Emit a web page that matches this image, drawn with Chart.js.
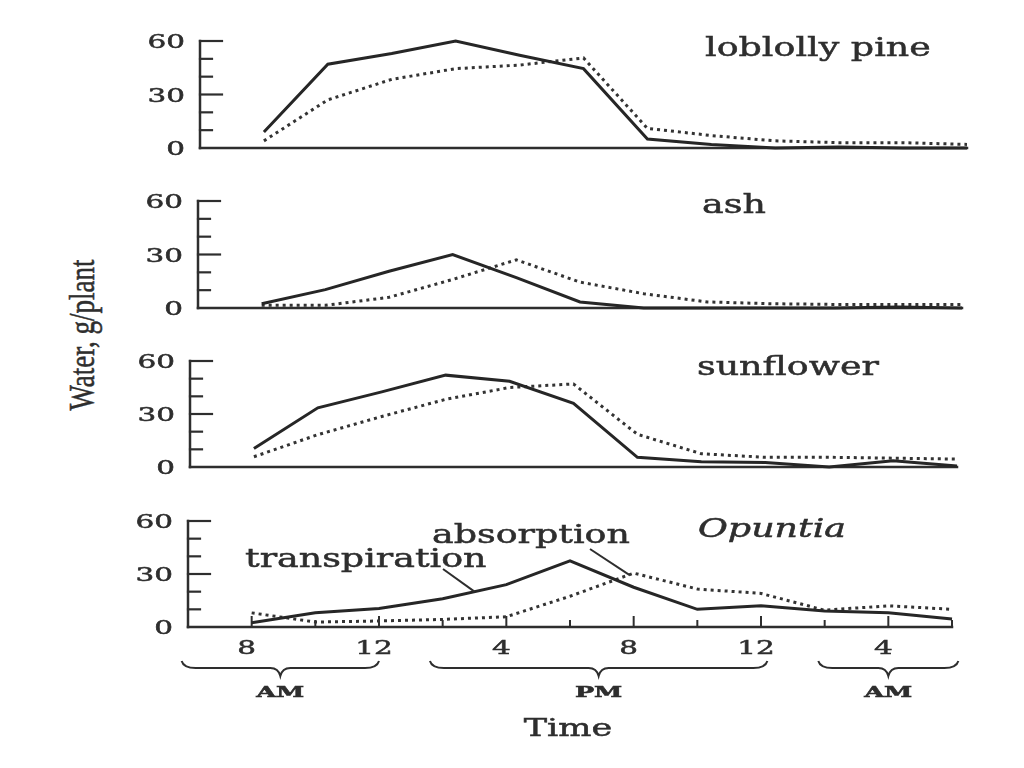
<!DOCTYPE html>
<html>
<head>
<meta charset="utf-8">
<script src="https://cdn.jsdelivr.net/npm/chart.js@4"></script>
<style>
  body { margin: 0; background: #fff; }
  #page { position: relative; width: 1024px; height: 768px; overflow: hidden; background: #fff; }
  #page canvas { position: absolute; left: 0; }
  #ylabel {
    position: absolute; left: 83px; top: 335px;
    font: 27px "Liberation Serif", serif; color: #2e2e2e; white-space: nowrap;
    -webkit-text-stroke: 0.4px #2e2e2e;
    transform: translate(-50%, -50%) rotate(-90deg) scaleY(1.35);
  }
</style>
</head>
<body>
<div id="page">
  <div id="ylabel">Water, g/plant</div>
</div>
<script>
// hours since midnight of the first day (8 = 8 AM, 20 = 8 PM, 28 = 4 AM)
const hours = [8, 10, 12, 14, 16, 18, 20, 22, 24, 26, 28, 30];
const plants = ['loblolly pine', 'ash', 'sunflower', 'Opuntia'];

const pineTranspiration = [9, 47, 53, 60, 52, 44.5, 5, 2, 0, 0.5, 0, 0];
const pineAbsorption = [4, 27, 38.5, 44.5, 46.5, 50.5, 11, 7, 4, 3, 3, 2];
const ashTranspiration = [2.4, 10.3, 20.6, 30, 17, 3.4, 0, 0, 0, 0, 0.5, 0];
const ashAbsorption = [1.5, 1.5, 6, 16, 27, 14.5, 8, 3.4, 2.4, 2, 2, 2];
const sunflowerTranspiration = [10.5, 33.5, 42.5, 52, 48.5, 36, 5.5, 3, 2.5, 0, 3.5, 0.5];
const sunflowerAbsorption = [5.8, 18.3, 28.6, 38.3, 45, 47, 18.5, 7.5, 5.5, 5.5, 5, 4.5];
const opuntiaTranspiration = [2.4, 8, 10.5, 16, 24, 37.5, 22.5, 10, 12, 9, 8, 4.5];
const opuntiaAbsorption = [8, 2.8, 3.4, 4.3, 5.8, 17.4, 30.5, 21.5, 19, 9.5, 12, 10];

const transpiration = [pineTranspiration, ashTranspiration, sunflowerTranspiration, opuntiaTranspiration];
const absorption = [pineAbsorption, ashAbsorption, sunflowerAbsorption, opuntiaAbsorption];

const yTicks = [0, 10, 20, 30, 40, 50, 60];
const yTickLabels = ['0', '', '', '30', '', '', '60'];
const xTicks = [8, 10, 12, 14, 16, 18, 20, 22, 24, 26, 28, 30];
const xTickLabels = ['8', '', '12', '', '4', '', '8', '', '12', '', '4', ''];
const periods = ['AM', 'PM', 'AM'];

// page layout (pixels) – the scanned panels are slightly offset from each other
const panels = [
  { left: 200, right: 967, top: 41, bottom: 148, titleX: 705, titleY: 56 },
  { left: 198, right: 962, top: 201, bottom: 308, titleX: 702, titleY: 213 },
  { left: 190, right: 957, top: 361, bottom: 467, titleX: 697, titleY: 375 },
  { left: 188, right: 952, top: 521, bottom: 627, titleX: 698, titleY: 537 }
];
const braceSpans = [[5.8, 12], [13.6, 24.2], [25.8, 30.2]]; // in hours
const INK = '#2e2e2e';
const SX = 1.4; // the scan is stretched sideways

function stretchText(ctx, text, x, y, font, align, sx) {
  ctx.save();
  ctx.font = font;
  ctx.fillStyle = INK;
  ctx.strokeStyle = INK;
  ctx.lineWidth = 0.5;
  ctx.textAlign = align;
  ctx.textBaseline = 'alphabetic';
  ctx.translate(x, y);
  ctx.scale(sx, 1);
  ctx.fillText(text, 0, 0);
  ctx.strokeText(text, 0, 0);
  ctx.restore();
}

function brace(ctx, x1, x2, y) {
  const xm = (x1 + x2) / 2;
  ctx.beginPath();
  ctx.moveTo(x1, y);
  ctx.quadraticCurveTo(x1 + 2, y + 7, x1 + 14, y + 7);
  ctx.lineTo(xm - 10, y + 7);
  ctx.quadraticCurveTo(xm - 2, y + 7, xm, y + 15);
  ctx.quadraticCurveTo(xm + 2, y + 7, xm + 10, y + 7);
  ctx.lineTo(x2 - 14, y + 7);
  ctx.quadraticCurveTo(x2 - 2, y + 7, x2, y);
  ctx.stroke();
}

function valueAt(series, h) {
  for (let i = 0; i < hours.length - 1; i++) {
    if (h >= hours[i] && h <= hours[i + 1]) {
      const t = (h - hours[i]) / (hours[i + 1] - hours[i]);
      return series[i] + t * (series[i + 1] - series[i]);
    }
  }
  return series[series.length - 1];
}

const paperAxes = {
  id: 'paperAxes',
  beforeDatasetsDraw(chart, args, opts) {
    const { ctx, chartArea: a, scales: { x, y } } = chart;
    ctx.save();
    ctx.strokeStyle = INK;
    ctx.lineWidth = 2.5;
    ctx.lineCap = 'square';
    // y axis
    ctx.beginPath();
    ctx.moveTo(a.left, y.getPixelForValue(0));
    ctx.lineTo(a.left, y.getPixelForValue(60));
    ctx.stroke();
    ctx.lineWidth = 2.2;
    yTicks.forEach((v, i) => {
      if (v === 0) return;
      const len = yTickLabels[i] ? 22 : 12;
      const py = y.getPixelForValue(v);
      ctx.beginPath();
      ctx.moveTo(a.left, py);
      ctx.lineTo(a.left + len, py);
      ctx.stroke();
    });
    // x axis
    ctx.lineWidth = 2.5;
    const y0 = y.getPixelForValue(0);
    ctx.beginPath();
    ctx.moveTo(a.left, y0);
    ctx.lineTo(a.right, y0);
    ctx.stroke();
    if (opts.bottom) {
      ctx.lineWidth = 2;
      xTicks.forEach((h, i) => {
        const px = x.getPixelForValue(h);
        const len = xTickLabels[i] ? 10 : 6;
        ctx.beginPath();
        ctx.moveTo(px, y0);
        ctx.lineTo(px, y0 - len);
        ctx.stroke();
      });
    }
    ctx.restore();
  },
  afterDraw(chart, args, opts) {
    const { ctx, chartArea: a, scales: { x, y } } = chart;
    const p = opts.panel;
    const top = opts.canvasTop;
    yTicks.forEach((v, i) => {
      if (!yTickLabels[i]) return;
      stretchText(ctx, yTickLabels[i], a.left - 15, y.getPixelForValue(v) + 7,
        '19px "DejaVu Serif"', 'right', 1.55);
    });
    stretchText(ctx, opts.title, p.titleX, p.titleY - top,
      (opts.italic ? 'italic ' : '') + '26px "DejaVu Serif"', 'left', SX);

    if (!opts.bottom) return;
    const y0 = y.getPixelForValue(0);
    xTicks.forEach((h, i) => {
      if (!xTickLabels[i]) return;
      stretchText(ctx, xTickLabels[i], x.getPixelForValue(h) - 5, y0 + 27,
        '19px "DejaVu Serif"', 'center', 1.55);
    });
    ctx.save();
    ctx.strokeStyle = INK;
    ctx.lineWidth = 2;
    braceSpans.forEach((s, i) => {
      const x1 = x.getPixelForValue(s[0]);
      const x2 = x.getPixelForValue(s[1]);
      brace(ctx, x1, x2, 661 - top);
      stretchText(ctx, periods[i], (x1 + x2) / 2, 697 - top, 'bold 15px "DejaVu Serif"', 'center', 1.7);
    });
    stretchText(ctx, 'Time', 568, 736 - top, '25px "DejaVu Serif"', 'center', SX);

    // labels for the two curves, with pointer lines
    stretchText(ctx, 'transpiration', 245, 567 - top, '26px "DejaVu Serif"', 'left', SX);
    stretchText(ctx, 'absorption', 432, 543 - top, '26px "DejaVu Serif"', 'left', SX);
    ctx.lineWidth = 2;
    const tx = x.getPixelForValue(15);
    const ty = y.getPixelForValue(valueAt(opuntiaTranspiration, 15));
    ctx.beginPath();
    ctx.moveTo(443, 569 - top);
    ctx.lineTo(tx, ty);
    ctx.stroke();
    const ax = x.getPixelForValue(20);
    const ay = y.getPixelForValue(valueAt(opuntiaAbsorption, 20));
    ctx.beginPath();
    ctx.moveTo(590, 549 - top);
    ctx.lineTo(ax - 4, ay + 2);
    ctx.stroke();
    ctx.restore();
  }
};

const page = document.getElementById('page');
const toPoints = (vals) => hours.map((h, i) => ({ x: h, y: vals[i] }));

panels.forEach((p, i) => {
  const isBottom = i === panels.length - 1;
  const padTop = 30;
  const canvasTop = p.top - padTop;
  const h = isBottom ? 768 - canvasTop : (p.bottom - p.top) + 2 * padTop;
  const canvas = document.createElement('canvas');
  canvas.width = 1024;
  canvas.height = h;
  canvas.style.top = canvasTop + 'px';
  canvas.style.width = '1024px';
  canvas.style.height = h + 'px';
  page.appendChild(canvas);

  new Chart(canvas, {
    type: 'line',
    data: {
      datasets: [
        {
          label: 'transpiration',
          data: toPoints(transpiration[i]),
          borderColor: '#262626',
          borderWidth: 3,
          pointRadius: 0,
          tension: 0,
          clip: false
        },
        {
          label: 'absorption',
          data: toPoints(absorption[i]),
          borderColor: '#333',
          borderWidth: 3,
          borderDash: [3, 4],
          borderCapStyle: 'butt',
          pointRadius: 0,
          tension: 0,
          clip: false
        }
      ]
    },
    options: {
      responsive: false,
      animation: false,
      devicePixelRatio: 1,
      events: [],
      layout: {
        padding: { left: p.left, right: 1024 - p.right, top: padTop, bottom: h - padTop - (p.bottom - p.top) }
      },
      scales: {
        x: { type: 'linear', min: 6, max: 30, display: false },
        y: { min: 0, max: 60, display: false }
      },
      plugins: {
        legend: { display: false },
        tooltip: { enabled: false },
        paperAxes: { panel: p, canvasTop: canvasTop, title: plants[i], italic: isBottom, bottom: isBottom }
      }
    },
    plugins: [paperAxes]
  });
});
</script>
</body>
</html>
